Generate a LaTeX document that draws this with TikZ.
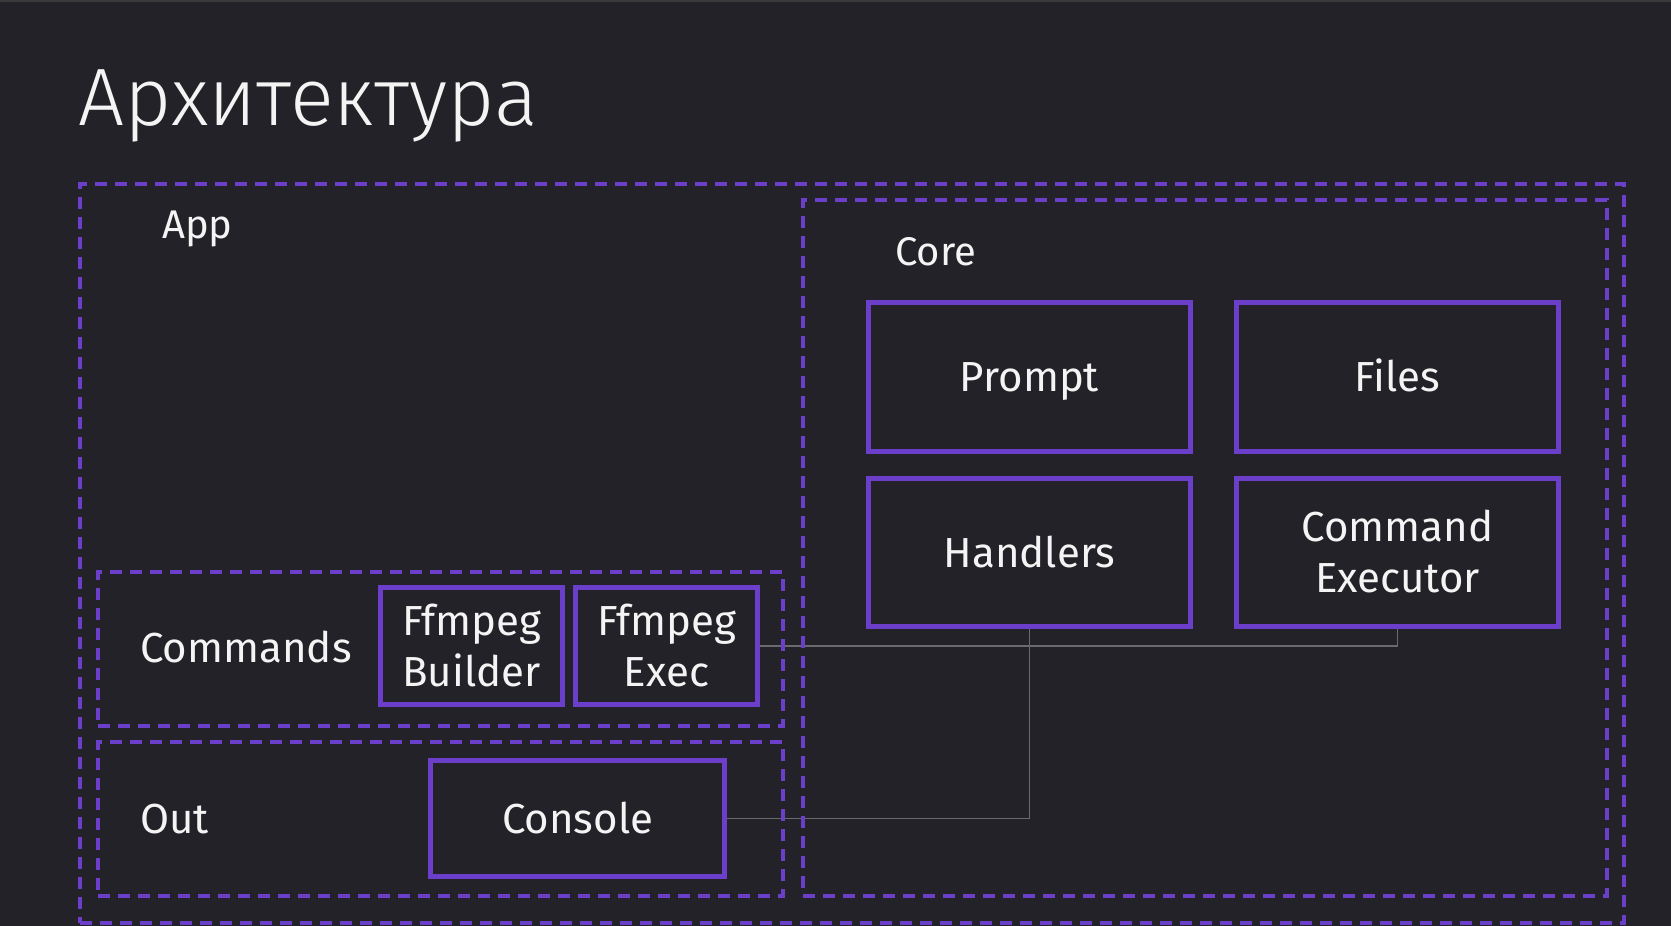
\documentclass[tikz,border=0pt]{standalone}
\usepackage{fontspec}
\setmainfont{Fira Sans}
\newfontfamily\titlefont{Fira Sans Light}
\definecolor{bg}{HTML}{232228}
\definecolor{rim}{HTML}{3A3A3D}
\definecolor{violet}{HTML}{6B3FC9}
\definecolor{wire}{HTML}{6A6A6C}
\definecolor{ink}{HTML}{F4F4F4}
\begin{document}
\begin{tikzpicture}[x=1pt,y=-1pt,
  group/.style={draw=violet, line width=3.5pt, dash pattern=on 12pt off 8pt, inner sep=0, anchor=north west},
  unit/.style={draw=violet, line width=5pt, text=ink, font=\fontsize{42}{51}\selectfont,
    align=center, inner sep=0, anchor=north west, text height=29pt, text depth=0pt},
  twoline/.style={text height=80pt, text depth=0pt},
  caption/.style={text=ink, font=\fontsize{40}{48}\selectfont, anchor=base west, inner sep=0},
  link/.style={draw=wire, line width=1.5pt}]
\fill[bg] (0,0) rectangle (1671,926);
\fill[rim] (0,0) rectangle (1671,2);
\useasboundingbox (0,0) rectangle (1671,926);

% slide title
\node[text=ink, font=\titlefont\fontsize{81.5}{98}\selectfont, anchor=base west, inner sep=0]
  (title) at (78,125) {Архитектура};

% solid component boxes
\node[unit, twoline, minimum width=182, minimum height=117] (builder) at (378,585) {Ffmpeg\\Builder};
\node[unit, twoline, minimum width=182, minimum height=117] (exec) at (573,585) {Ffmpeg\\Exec};
\node[unit, minimum width=294, minimum height=116] (console) at (428,758) {Console};
\node[unit, minimum width=322, minimum height=149] (prompt) at (866,300) {Prompt};
\node[unit, minimum width=322, minimum height=149] (files) at (1234,300) {Files};
\node[unit, minimum width=322, minimum height=148] (handlers) at (866,476) {Handlers};
\node[unit, twoline, minimum width=322, minimum height=148] (cmdexec) at (1234,476) {Command\\Executor};

% connectors
\draw[link] (exec.east) -- (cmdexec.south |- exec.east) -- (cmdexec.south);
\draw[link] (console.east) -- (handlers.south |- console.east) -- (handlers.south);

% dashed module boundaries
\node[group, minimum width=1544, minimum height=739] (app) at (78,182) {};
\node[group, minimum width=804, minimum height=696] (core) at (801,198) {};
\node[group, minimum width=685, minimum height=154] (commands) at (96,570) {};
\node[group, minimum width=685, minimum height=154] (out) at (96,740) {};

% module captions
\node[caption] (applabel) at (162,238) {App};
\node[caption] (corelabel) at (895,265) {Core};
\node[caption, font=\fontsize{42}{50}\selectfont] (cmdlabel) at (140,662) {Commands};
\node[caption, font=\fontsize{42}{50}\selectfont] (outlabel) at (140,833) {Out};
\end{tikzpicture}
\end{document}
